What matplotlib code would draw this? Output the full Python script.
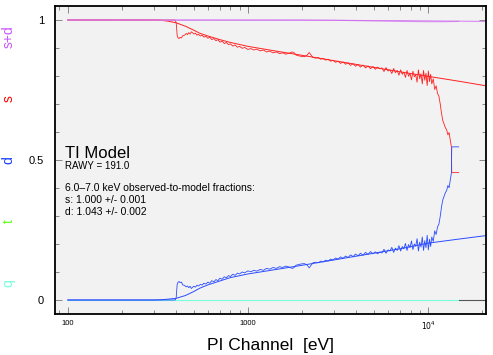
import numpy as np
import matplotlib
matplotlib.use("Agg")
from matplotlib import pyplot as plt
from matplotlib.ticker import FixedLocator, NullFormatter

plt.rcParams['font.family'] = ['Liberation Sans', 'DejaVu Sans']

# model curves (energy in eV)
e_model = [100, 300, 330, 360, 400, 450, 500, 540, 600, 700, 800, 1000, 1500,
           2000, 3000, 5000, 7000, 10000, 15000, 21000]
s_model = [1.0, 1.0, 0.999, 0.996, 0.99, 0.978, 0.964, 0.953, 0.943, 0.93, 0.92,
           0.906, 0.887, 0.874, 0.855, 0.831, 0.815, 0.799, 0.781, 0.765]
d_model = [0.0, 0.0, 0.001, 0.003, 0.006, 0.016, 0.03, 0.042, 0.054, 0.068, 0.08,
           0.093, 0.111, 0.124, 0.143, 0.167, 0.183, 0.203, 0.218, 0.23]
sd_model = [1.0, 1.0, 1.0, 1.0, 1.0, 1.0, 1.0, 1.0, 1.0, 1.0, 1.0,
            1.0, 1.0, 1.0, 0.999, 0.998, 0.998, 0.997, 0.996, 0.995]

# observed fractions
e_obs = [100, 395, 400, 402, 405, 410, 415, 420, 428, 435, 445, 455, 462, 470, 478,
         486, 494, 502, 512, 522, 532, 545, 558, 570, 585, 600, 615, 630, 648, 665,
         682, 700, 720, 740, 760, 780, 800, 825, 850, 875, 900, 930, 960, 1000,
         1040, 1080, 1120, 1170, 1220, 1270, 1320, 1380, 1440, 1500, 1560, 1620,
         1690, 1760, 1800, 1850, 1920, 1990, 2060, 2130, 2190, 2240, 2300, 2380,
         2460, 2540, 2620, 2700, 2790, 2880, 2970, 3070, 3170, 3270, 3380, 3490,
         3600, 3720, 3840, 3960, 4090, 4220, 4360, 4500, 4650, 4800, 4950, 5100,
         5250, 5400, 5550, 5700, 5850, 6000, 6150, 6300, 6450, 6600, 6750, 6900,
         7050, 7200, 7350, 7500, 7650, 7800, 7950, 8100, 8250, 8400, 8550, 8700,
         8850, 9000, 9150, 9300, 9450, 9600, 9750, 9900, 10050, 10200, 10350,
         10500, 10700, 10900, 11100, 11300, 11500, 11700, 11900, 12100, 12300,
         12500, 12700, 12900, 13100, 13300, 13500, 13550, 14800]
s_obs = [1.0, 1.0, 0.99, 0.975, 0.945, 0.936, 0.934, 0.938, 0.936, 0.944, 0.946,
         0.952, 0.948, 0.955, 0.95, 0.958, 0.954, 0.95, 0.953, 0.946, 0.949, 0.943,
         0.946, 0.939, 0.942, 0.935, 0.939, 0.93, 0.934, 0.926, 0.93, 0.921, 0.925,
         0.916, 0.92, 0.912, 0.915, 0.907, 0.911, 0.903, 0.906, 0.899, 0.902, 0.895,
         0.898, 0.893, 0.896, 0.89, 0.893, 0.886, 0.889, 0.883, 0.886, 0.88, 0.883,
         0.878, 0.881, 0.886, 0.884, 0.875, 0.872, 0.87, 0.869, 0.874, 0.884, 0.876,
         0.866, 0.864, 0.866, 0.86, 0.863, 0.857, 0.86, 0.853, 0.856, 0.849, 0.853,
         0.845, 0.85, 0.842, 0.847, 0.838, 0.844, 0.835, 0.841, 0.832, 0.839, 0.829,
         0.836, 0.826, 0.834,
         0.824, 0.832, 0.826, 0.829, 0.816, 0.83, 0.818, 0.822, 0.809, 0.827, 0.812,
         0.82, 0.803, 0.822, 0.806, 0.814, 0.795, 0.82, 0.799, 0.81, 0.786, 0.817,
         0.797, 0.805, 0.778, 0.822, 0.79, 0.808, 0.772, 0.82, 0.785, 0.81, 0.766,
         0.818, 0.78, 0.806, 0.772,
         0.79, 0.752, 0.765, 0.738,
         0.728, 0.7, 0.665, 0.64, 0.628, 0.615, 0.608, 0.59, 0.598, 0.57, 0.545,
         0.455, 0.455]
d_obs = [0.0, 0.0, 0.008, 0.025, 0.055, 0.064, 0.066, 0.062, 0.064, 0.054, 0.052,
         0.047, 0.05, 0.044, 0.049, 0.041, 0.046, 0.049, 0.046, 0.053, 0.05, 0.056,
         0.053, 0.06, 0.057, 0.064, 0.06, 0.069, 0.065, 0.073, 0.069, 0.078, 0.074,
         0.083, 0.079, 0.087, 0.084, 0.092, 0.088, 0.096, 0.093, 0.1, 0.097, 0.104,
         0.101, 0.106, 0.103, 0.109, 0.106, 0.113, 0.11, 0.116, 0.113, 0.119, 0.116,
         0.121, 0.118, 0.113, 0.115, 0.124, 0.127, 0.129, 0.13, 0.125, 0.115, 0.123,
         0.133, 0.135, 0.133, 0.139, 0.136, 0.142, 0.139, 0.146, 0.143, 0.15, 0.146,
         0.154, 0.149, 0.157, 0.152, 0.161, 0.155, 0.164, 0.158, 0.167, 0.16, 0.17,
         0.163, 0.173, 0.165,
         0.172, 0.165, 0.171, 0.168, 0.181, 0.167, 0.179, 0.175, 0.188, 0.17, 0.185,
         0.177, 0.194, 0.175, 0.191, 0.183, 0.202, 0.177, 0.198, 0.187, 0.211, 0.18,
         0.2, 0.192, 0.219, 0.175, 0.207, 0.189, 0.225, 0.177, 0.212, 0.187, 0.231,
         0.179, 0.217, 0.191, 0.225,
         0.209, 0.247, 0.234, 0.261,
         0.271, 0.299, 0.334, 0.359, 0.371, 0.384, 0.391, 0.409, 0.401, 0.429, 0.455,
         0.547, 0.547]
e_sd_obs = [100, 3000, 5000, 7000, 10000, 12000, 14800]
sd_obs = [1.0, 0.999, 0.997, 0.995, 0.994, 0.994, 0.995]

# q (and t) stay at zero
e_q = [100, 14800]
q_obs = [0.0, 0.0]
e_tail = [14800, 21000]
tail = [0.0, 0.0]

side_labels = ['s+d', 's', 'd', 't', 'q']
side_colors = ['#cc55ff', '#ff0000', '#1a3dff', '#66ff22', '#77ffdd']

fig = plt.figure(figsize=(4.93, 3.55), dpi=100)
ax = fig.add_axes([0.1116, 0.1155, 0.8742, 0.8675])
ax.set_facecolor('#f2f2f2')

ax.plot(e_q, q_obs, color='#77ffdd', lw=0.8)
ax.plot(e_tail, tail, color='#555555', lw=0.8)
ax.plot(e_obs, s_obs, color='#ff2020', lw=0.6)
ax.plot(e_model, s_model, color='#ff2020', lw=0.7)
ax.plot(e_obs, d_obs, color='#2a4cff', lw=0.6)
ax.plot(e_model, d_model, color='#2a4cff', lw=0.7)
ax.plot(e_sd_obs, sd_obs, color='#dd99f0', lw=0.8)
ax.plot(e_model, sd_model, color='#cc66ee', lw=0.8, alpha=0.75)

ax.set_xscale('log')
ax.set_xlim(85, 21000)
ax.set_ylim(-0.05, 1.05)

ax.set_xticks([100, 1000, 10000])
ax.set_xticklabels(['100', '1000', '$10^4$'], fontsize=5.5)
minors = [m * 10 ** k for k in (1, 2, 3, 4) for m in range(2, 10)]
ax.xaxis.set_minor_locator(FixedLocator(minors))
ax.xaxis.set_minor_formatter(NullFormatter())
ax.set_yticks([0, 0.5, 1])
ax.set_yticklabels(['0', '0.5', '1'], fontsize=8)
ax.yaxis.set_minor_locator(FixedLocator([0.1, 0.2, 0.3, 0.4, 0.6, 0.7, 0.8, 0.9]))
ax.tick_params(which='both', direction='in', top=True, right=True, width=0.6, color='#777777')
ax.tick_params(which='major', length=5)
ax.tick_params(which='minor', length=3)
ax.tick_params(axis='y', pad=8)
ax.tick_params(axis='x', pad=4)
for sp in ax.spines.values():
    sp.set_linewidth(1.3)

ax.set_xlabel('PI Channel  [eV]', fontsize=12.5, labelpad=4)

for i in range(len(side_labels)):
    fig.text(0.018, 1 - (37 + 61.5 * i) / 355.0, side_labels[i], color=side_colors[i],
             rotation=90, ha='center', va='center', fontsize=10)

ax.text(0.024, 0.506, 'TI Model', transform=ax.transAxes, fontsize=12, va='baseline')
ax.text(0.024, 0.48, 'RAWY = 191.0', transform=ax.transAxes, fontsize=7, va='center')
ax.text(0.024, 0.408, '6.0\u20137.0 keV observed-to-model fractions:', transform=ax.transAxes,
        fontsize=7.5, va='center')
ax.text(0.024, 0.369, 's: 1.000 +/- 0.001', transform=ax.transAxes, fontsize=7.5, va='center')
ax.text(0.024, 0.330, 'd: 1.043 +/- 0.002', transform=ax.transAxes, fontsize=7.5, va='center')

fig.savefig('out.png', dpi=100)
